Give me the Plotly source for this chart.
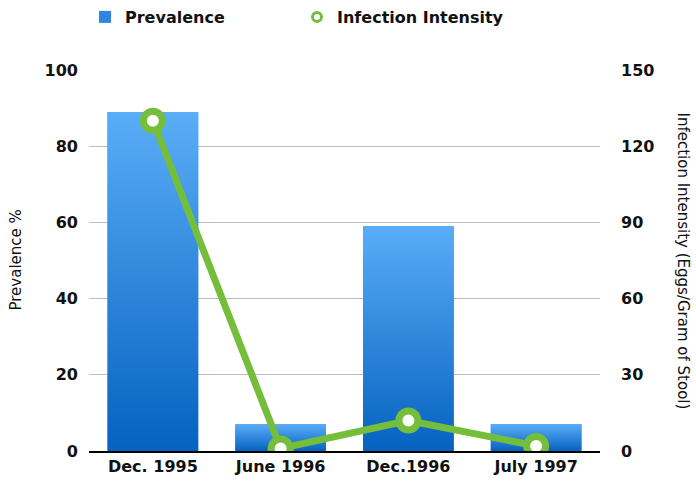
import plotly.graph_objects as go

categories = ["Dec. 1995", "June 1996", "Dec.1996", "July 1997"]
prevalence = [89, 7, 59, 7]
intensity = [130, 1, 12, 2]
y1_ticks = [0, 20, 40, 60, 80, 100]
y2_ticks = [0, 30, 60, 90, 120, 150]

FONT = "DejaVu Sans"
GREEN = "#74BE3C"
bar_w = 0.71
xs = list(range(len(categories)))

fig = go.Figure()

# legend/base bar trace
fig.add_trace(go.Bar(
    x=xs, y=prevalence, width=bar_w, name="Prevalence",
    marker=dict(color="#2F86DD", line=dict(width=0)),
    hoverinfo="skip",
))

# gradient overlays built from the same data
for i, v in zip(xs, prevalence):
    fig.add_trace(go.Scatter(
        x=[i - bar_w / 2, i + bar_w / 2, i + bar_w / 2, i - bar_w / 2, i - bar_w / 2],
        y=[0, 0, v, v, 0],
        fill="toself", mode="lines", line=dict(width=0),
        fillgradient=dict(type="vertical",
                          colorscale=[[0, "#0562C0"], [1, "#5AADF7"]]),
        showlegend=False, hoverinfo="skip",
    ))

fig.add_trace(go.Scatter(
    x=xs, y=intensity, yaxis="y2", name="Infection Intensity",
    mode="lines+markers",
    line=dict(color=GREEN, width=7),
    marker=dict(size=19, color="white", line=dict(color=GREEN, width=7)),
    showlegend=False,
))
# legend-only entry (small ring like the reference legend)
fig.add_trace(go.Scatter(
    x=[None], y=[None], yaxis="y2", name="Infection Intensity",
    mode="markers",
    marker=dict(size=9, color="white", line=dict(color=GREEN, width=3)),
))

tickfont = dict(family=FONT, size=16, color="#111111", weight="bold")
titlefont = dict(family=FONT, size=15, color="#111111")

fig.update_layout(
    width=696, height=481,
    margin=dict(l=89, r=96, t=70, b=30, autoexpand=False),
    paper_bgcolor="white", plot_bgcolor="white",
    font=dict(family=FONT, color="#111111"),
    showlegend=True,
    legend=dict(orientation="h", x=85 / 696, y=1.0, xref="container", yref="container",
                xanchor="left", yanchor="top",
                font=dict(family=FONT, size=16, color="#111111", weight="bold"),
                entrywidth=167, entrywidthmode="pixels",
                bgcolor="rgba(0,0,0,0)"),
    xaxis=dict(
        tickvals=xs, ticktext=categories, range=[-0.5, len(categories) - 0.5],
        showgrid=False, showline=True, linecolor="black", linewidth=2,
        ticks="", tickfont=tickfont, zeroline=False, automargin=False,
    ),
    yaxis=dict(
        range=[0, 100], tickvals=y1_ticks, showgrid=True, gridcolor="#BDBDBD",
        gridwidth=1, zeroline=False, tickfont=tickfont, ticks="",
        ticklabelstandoff=10, automargin=False,
    ),
    yaxis2=dict(
        range=[0, 150], tickvals=y2_ticks, overlaying="y", side="right",
        showgrid=False, zeroline=False, tickfont=tickfont, ticks="",
        ticklabelstandoff=20, automargin=False,
    ),
    annotations=[
        dict(text="Prevalence %", textangle=-90,
             x=0.0, xref="paper", xshift=-85, y=0.5, yref="paper",
             showarrow=False, font=titlefont),
        dict(text="Infection Intensity (Eggs/Gram of Stool)", textangle=90,
             x=1.0, xref="paper", xshift=94, y=0.5, yref="paper",
             showarrow=False, font=titlefont),
    ],
)

fig.write_html("out.html", config={"displayModeBar": False},
               post_script="document.body.style.margin='0';")
